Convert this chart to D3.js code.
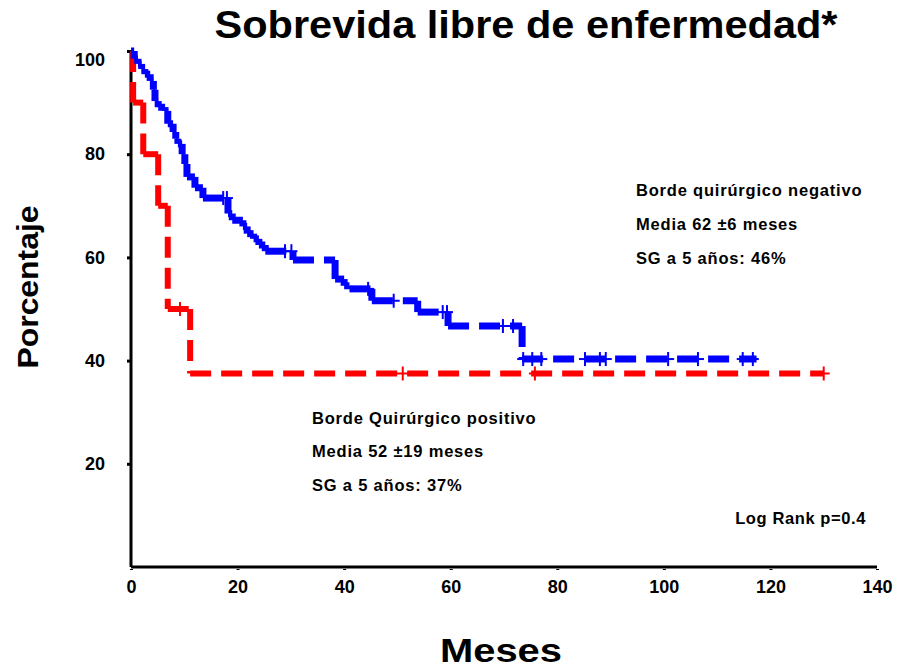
<!DOCTYPE html>
<html>
<head>
<meta charset="utf-8">
<script src="https://cdn.jsdelivr.net/npm/d3@7"></script>
<style>
  html, body { margin: 0; padding: 0; background: #fff; }
  svg { display: block; font-family: "Liberation Sans", Arial, sans-serif; }
</style>
</head>
<body>
<svg id="chart" width="899" height="670"></svg>
<script>
// ---- Data ----
const xTicks = [0, 20, 40, 60, 80, 100, 120, 140];
const yTicks = [20, 40, 60, 80, 100];

// Borde quirúrgico negativo (blue)
const negTimes = [0, 0.6, 1.3, 2.0, 2.6, 3.6, 4.2, 4.5, 5.1, 6.4, 6.9, 7.9, 8.4, 8.8, 9.6, 10.1, 10.5, 12.0, 13.5, 18.2, 19.0, 21.0, 21.8, 23.0, 24.0, 25.2, 30.4, 38.3, 40.0, 41.0, 45.2, 53.8, 59.5, 73.4];
const negSurv  = [100, 98.5, 97.5, 96.5, 95.5, 94.2, 92.5, 90.3, 89.1, 88.4, 85.9, 84.3, 83.0, 82.0, 80.0, 78.1, 75.6, 73.5, 71.5, 68.5, 67.2, 66.0, 64.6, 63.6, 62.4, 61.2, 59.5, 55.8, 54.5, 53.9, 51.6, 49.4, 46.7, 40.3];
const negEnd = 117.4;
const negCensor = [17.3, 18.0, 28.9, 30.1, 44.5, 49.3, 58.5, 59.3, 69.8, 71.7, 73.6, 75.3, 77.0, 85.2, 88.0, 89.1, 100.8, 106.4, 114.8, 116.7];

// Borde quirúrgico positivo (red)
const posTimes = [0, 0.4, 2.3, 5.1, 6.9, 11.1];
const posSurv  = [100, 90, 80, 70, 50, 37.5];
const posEnd = 130;
const posCensor = [9.2, 51, 75.8, 130];

// ---- Layout ----
const svg = d3.select("#chart");
const x = d3.scaleLinear().domain([0, 140]).range([131, 877]);
const y = d3.scaleLinear().domain([0, 100]).range([567, 51]);

function stepSegments(times, surv, end) {
  const segs = [];
  for (let i = 0; i < times.length; i++) {
    const tNext = i + 1 < times.length ? times[i + 1] : end;
    segs.push([[times[i], surv[i]], [tNext, surv[i]]]);
    if (i + 1 < times.length) segs.push([[tNext, surv[i]], [tNext, surv[i + 1]]]);
  }
  return segs;
}
function survAt(times, surv, t) {
  let v = surv[0];
  for (let i = 0; i < times.length; i++) if (times[i] <= t) v = surv[i];
  return v;
}
const line = d3.line().x(d => x(d[0])).y(d => y(d[1]));

// Axes
const xAxis = d3.axisBottom(x).tickValues(xTicks).tickSize(3).tickPadding(10);
const gx = svg.append("g").attr("transform", `translate(0,${y(0)})`).call(xAxis);
gx.select(".domain").attr("stroke", "#000").attr("stroke-width", 3).attr("d", `M${x(0)},0H${x(140)}`);
gx.selectAll(".tick line").attr("stroke", "#000").attr("stroke-width", 3).attr("y1", 2);
gx.selectAll(".tick text").attr("font-size", 18).attr("font-weight", "bold").attr("fill", "#000")
  .attr("font-family", "Liberation Sans, Arial, sans-serif");

const yAxis = d3.axisLeft(y).tickValues(yTicks).tickSize(4).tickPadding(22);
const gy = svg.append("g").attr("transform", `translate(${x(0)},0)`).call(yAxis);
gy.select(".domain").attr("stroke", "#000").attr("stroke-width", 3).attr("d", `M0,${y(100)}V${y(0)}`);
gy.selectAll(".tick line").attr("stroke", "#000").attr("stroke-width", 3);
gy.selectAll(".tick text").attr("font-size", 18).attr("font-weight", "bold").attr("fill", "#000")
  .attr("font-family", "Liberation Sans, Arial, sans-serif");
gy.selectAll(".tick").filter(d => d === 100).select("text").attr("dy", "0.8em");

// Curves
function drawCurve(times, surv, end, censor, color, width) {
  svg.append("g").selectAll("path")
    .data(stepSegments(times, surv, end))
    .join("path")
    .attr("d", line)
    .attr("fill", "none")
    .attr("stroke", color)
    .attr("stroke-width", width)
    .attr("stroke-dasharray", "21,10");
  svg.append("g").selectAll("line")
    .data(censor)
    .join("line")
    .attr("x1", d => x(d)).attr("x2", d => x(d))
    .attr("y1", d => y(survAt(times, surv, d)) - 7)
    .attr("y2", d => y(survAt(times, surv, d)) + 7)
    .attr("stroke", color)
    .attr("stroke-width", 2);
  svg.append("g").selectAll("line")
    .data(censor)
    .join("line")
    .attr("x1", d => x(d) - 6).attr("x2", d => x(d) + 6)
    .attr("y1", d => y(survAt(times, surv, d)))
    .attr("y2", d => y(survAt(times, surv, d)))
    .attr("stroke", color)
    .attr("stroke-width", 2);
}
drawCurve(posTimes, posSurv, posEnd, posCensor, "#ff0000", 6);
drawCurve(negTimes, negSurv, negEnd, negCensor, "#0000ff", 7);

// Texts
svg.append("text").attr("x", 526).attr("y", 38).attr("text-anchor", "middle")
  .attr("font-size", 38).attr("font-weight", "bold")
  .attr("textLength", 623).attr("lengthAdjust", "spacingAndGlyphs")
  .text("Sobrevida libre de enfermedad*");

svg.append("text").attr("transform", "translate(38,287) rotate(-90)").attr("text-anchor", "middle")
  .attr("font-size", 30).attr("font-weight", "bold")
  .attr("textLength", 163).attr("lengthAdjust", "spacingAndGlyphs")
  .text("Porcentaje");

svg.append("text").attr("x", 501).attr("y", 662).attr("text-anchor", "middle")
  .attr("font-size", 34).attr("font-weight", "bold")
  .attr("textLength", 122).attr("lengthAdjust", "spacingAndGlyphs")
  .text("Meses");

const notes = [
  {x: 636, y: 196, t: "Borde quirúrgico negativo"},
  {x: 636, y: 230, t: "Media 62 ±6 meses"},
  {x: 636, y: 264, t: "SG a 5 años: 46%"},
  {x: 312, y: 424, t: "Borde Quirúrgico positivo"},
  {x: 312, y: 457, t: "Media 52 ±19 meses"},
  {x: 312, y: 491, t: "SG a 5 años: 37%"}
];
svg.append("g").selectAll("text").data(notes).join("text")
  .attr("x", d => d.x).attr("y", d => d.y)
  .attr("font-size", 16.5).attr("font-weight", "bold").attr("letter-spacing", 0.8)
  .text(d => d.t);

svg.append("text").attr("x", 866).attr("y", 524).attr("text-anchor", "end")
  .attr("font-size", 16.5).attr("font-weight", "bold").attr("letter-spacing", 0.6)
  .text("Log Rank p=0.4");
</script>
</body>
</html>
